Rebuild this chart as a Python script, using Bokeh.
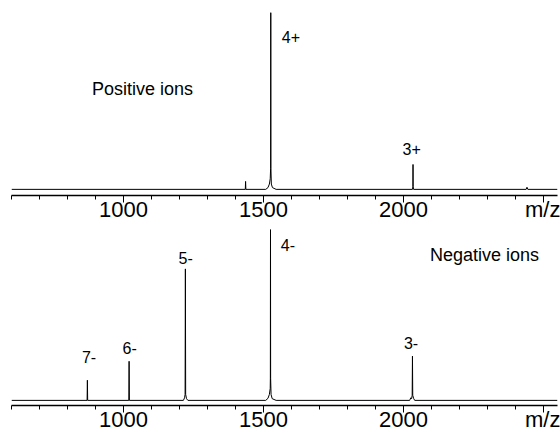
from bokeh.plotting import figure
from bokeh.layouts import column
from bokeh.models import FixedTicker, Range1d
from bokeh.core.properties import value
from bokeh.embed import file_html
from bokeh.resources import INLINE

# ---- data ----
pos_mz = [600, 1435, 1436, 1437, 1508, 1516, 1521, 1524, 1525.5, 1526, 1526.5, 1528, 1532, 1545,
          2032, 2033.5, 2034, 2034.5, 2036, 2438, 2441, 2444, 2550]
pos_int = [0, 0, 0.045, 0, 0, 0.01, 0.03, 0.06, 0.12, 1.0, 0.12, 0.03, 0.01, 0,
           0, 0.015, 0.141, 0.015, 0, 0, 0.012, 0, 0]

neg_mz = [600, 870, 871, 872, 1019, 1020, 1021, 1214, 1218, 1220, 1221, 1222, 1225, 1230,
          1508, 1516, 1521, 1524, 1524.5, 1525, 1525.5, 1527, 1531, 1545,
          2022, 2026, 2029, 2031, 2032, 2033, 2036, 2040, 2550]
neg_int = [0, 0, 0.118, 0, 0, 0.229, 0, 0, 0.015, 0.035, 0.77, 0.035, 0.01, 0,
           0, 0.012, 0.035, 0.07, 0.13, 1.0, 0.13, 0.035, 0.01, 0,
           0, 0.015, 0.01, 0.03, 0.259, 0.03, 0.012, 0, 0]

pos_labels = ["4+", "3+"]
pos_label_mz = [1598, 2029]
pos_label_y = [0.863, 0.226]
pos_title = ["Positive ions"]
pos_title_mz = [1068]
pos_title_y = [0.566]

neg_labels = ["7-", "6-", "5-", "4-", "3-"]
neg_label_mz = [877, 1022, 1222, 1587, 2027]
neg_label_y = [0.254, 0.304, 0.835, 0.91, 0.337]
neg_title = ["Negative ions"]
neg_title_mz = [2289]
neg_title_y = [0.85]

major_ticks = [1000, 1500, 2000, 2500]
minor_ticks = list(range(600, 2600, 100))
tick_overrides = {2500: "m/z"}

FONT = "Liberation Sans"


def make_panel(mz, inten, labels, lx, ly, title, tx, ty, height, y_start, y_end):
    p = figure(width=560, height=height, output_backend="svg", toolbar_location=None,
               x_range=Range1d(600, 2550), y_range=Range1d(y_start, y_end),
               min_border_left=11, min_border_right=3, min_border_top=0, min_border_bottom=0,
               y_axis_location=None)
    p.grid.visible = False
    p.outline_line_color = None
    p.background_fill_color = "white"
    p.border_fill_color = "white"

    p.line(mz, inten, line_color="black", line_width=1)

    p.text(x=lx, y=ly, text=labels, text_font=value(FONT), text_font_size="16px",
           text_align="center", text_baseline="middle", text_color="black")
    p.text(x=tx, y=ty, text=title, text_font=value(FONT), text_font_size="18px",
           text_align="center", text_baseline="middle", text_color="black")

    ax = p.xaxis[0]
    ax.ticker = FixedTicker(ticks=major_ticks, minor_ticks=minor_ticks)
    ax.major_label_overrides = tick_overrides
    ax.axis_line_color = "black"
    ax.axis_line_width = 1.5
    ax.major_tick_in = 0
    ax.major_tick_out = 7
    ax.minor_tick_in = 0
    ax.minor_tick_out = 4
    ax.major_tick_line_color = "black"
    ax.minor_tick_line_color = "black"
    ax.major_label_standoff = -6
    ax.major_label_text_font = FONT
    ax.major_label_text_font_size = "22px"
    ax.major_label_text_color = "black"
    return p


p1 = make_panel(pos_mz, pos_int, pos_labels, pos_label_mz, pos_label_y,
                pos_title, pos_title_mz, pos_title_y, 224, -0.0347, 1.069)
p2 = make_panel(neg_mz, neg_int, neg_labels, neg_label_mz, neg_label_y,
                neg_title, neg_title_mz, neg_title_y, 210, -0.03, 1.03)

layout = column(p1, p2, spacing=0)
open("out.html", "w").write(file_html(layout, INLINE))
